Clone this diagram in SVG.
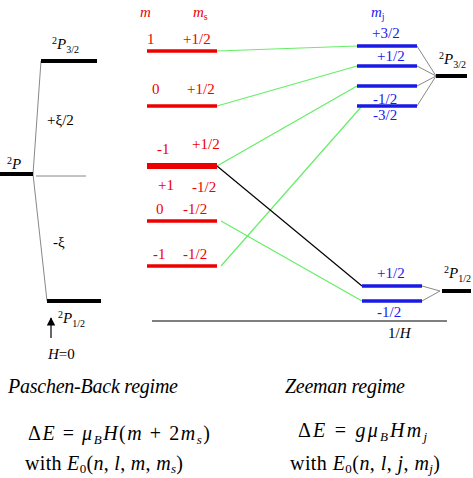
<svg xmlns="http://www.w3.org/2000/svg" width="473" height="478" viewBox="0 0 473 478" font-family="'Liberation Serif', 'DejaVu Serif', 'Times New Roman', serif">
<defs>
<style>
text{font-family:'Liberation Serif','DejaVu Serif','Times New Roman',serif}
.r{fill:#e00;font-size:15px}
.b{fill:#1a1aee;font-size:15px}
.k{fill:#000;font-size:15px}
.it{font-style:italic}
.f{font-size:20px}
.lvk{stroke:#000;stroke-width:4}
.lvr{stroke:#e00;stroke-width:3.5}
.lvb{stroke:#1a1ae6;stroke-width:3.5}
.g{stroke:#888;stroke-width:1;fill:none}
.gr{stroke:#66ee66;stroke-width:1.2;fill:none}
.bl{stroke:#000;stroke-width:1.2;fill:none}
</style>
<marker id="ah" viewBox="0 0 10 10" refX="9" refY="5" markerWidth="7" markerHeight="8" orient="auto"><path d="M0,0 L10,5 L0,10 z" fill="#000"/></marker>
</defs>
<g id="connectors">
<line class="g" x1="33" y1="174" x2="41" y2="61"/>
<line class="g" x1="33" y1="174" x2="47" y2="301"/>
<line class="g" x1="36" y1="176" x2="86" y2="176"/>
<line class="g" x1="417" y1="46" x2="436" y2="76"/>
<line class="g" x1="417" y1="66" x2="436" y2="76"/>
<line class="g" x1="417" y1="86" x2="436" y2="76"/>
<line class="g" x1="417" y1="106" x2="436" y2="76"/>
<line class="g" x1="422" y1="286" x2="440" y2="291"/>
<line class="g" x1="422" y1="301" x2="440" y2="291"/>
<line class="gr" x1="217" y1="51" x2="357" y2="46"/>
<line class="gr" x1="217" y1="106" x2="357" y2="66"/>
<line class="gr" x1="217" y1="166" x2="357" y2="86"/>
<line class="gr" x1="221" y1="266" x2="362" y2="106"/>
<line class="gr" x1="221" y1="221" x2="362" y2="301"/>
<line class="bl" x1="217" y1="166" x2="362" y2="286"/>
<line x1="51" y1="338" x2="51" y2="318" stroke="#000" stroke-width="1.2" marker-end="url(#ah)"/>
<line x1="152" y1="321" x2="447" y2="321" stroke="#000" stroke-width="1"/>
</g>
<g id="P"><line class="lvk" x1="0" y1="174" x2="33" y2="174"/><text class="k" x="7" y="169"><tspan font-size="10" dy="-5">2</tspan><tspan class="it" dy="5">P</tspan></text></g>
<g id="P32"><line class="lvk" x1="41" y1="61" x2="97" y2="61"/><text class="k" x="52" y="49"><tspan font-size="10" dy="-5">2</tspan><tspan class="it" dy="5">P</tspan><tspan font-size="10" dy="4">3/2</tspan></text></g>
<g id="P12"><line class="lvk" x1="47" y1="301" x2="101" y2="301"/><text class="k" x="58" y="323"><tspan font-size="10" dy="-5">2</tspan><tspan class="it" dy="5">P</tspan><tspan font-size="10" dy="4">1/2</tspan></text></g>
<text class="k" x="47" y="125">+ξ/2</text>
<text class="k" x="53" y="247">-ξ</text>
<text class="k" x="48" y="359"><tspan class="it">H</tspan>=0</text>
<text class="r it" x="140" y="17">m</text>
<text class="r" x="193" y="17"><tspan class="it">m</tspan><tspan font-size="10" dy="3">s</tspan></text>
<text class="b" x="371" y="17"><tspan class="it">m</tspan><tspan font-size="10" dy="3">j</tspan></text>
<g id="r1"><line class="lvr" x1="147" y1="51" x2="217" y2="51"/><text class="r" x="147" y="44">1</text><text class="r" x="183" y="44">+1/2</text></g>
<g id="r2"><line class="lvr" x1="147" y1="106" x2="217" y2="106"/><text class="r" x="152" y="94">0</text><text class="r" x="187" y="94">+1/2</text></g>
<g id="r3"><line stroke="#e00" stroke-width="6" x1="147" y1="166" x2="217" y2="166"/><text class="r" x="157" y="154">-1</text><text class="r" x="192" y="149">+1/2</text><text class="r" x="158" y="190">+1</text><text class="r" x="192" y="192">-1/2</text></g>
<g id="r4"><line class="lvr" x1="147" y1="221" x2="217" y2="221"/><text class="r" x="156" y="214">0</text><text class="r" x="183" y="214">-1/2</text></g>
<g id="r5"><line class="lvr" x1="147" y1="266" x2="217" y2="266"/><text class="r" x="153" y="259">-1</text><text class="r" x="183" y="259">-1/2</text></g>
<g id="b1"><line class="lvb" x1="357" y1="46" x2="417" y2="46"/><text class="b" x="372" y="38">+3/2</text></g>
<g id="b2"><line class="lvb" x1="357" y1="66" x2="417" y2="66"/><text class="b" x="377" y="61">+1/2</text></g>
<g id="b3"><line class="lvb" x1="357" y1="86" x2="417" y2="86"/></g>
<g id="b4"><line class="lvb" x1="357" y1="106" x2="417" y2="106"/><text class="b" x="373" y="104">-1/2</text><text class="b" x="373" y="120">-3/2</text></g>
<g id="b5"><line class="lvb" x1="362" y1="286" x2="422" y2="286"/><text class="b" x="377" y="278">+1/2</text></g>
<g id="b6"><line class="lvb" x1="362" y1="301" x2="422" y2="301"/><text class="b" x="377" y="317">-1/2</text></g>
<g id="R32"><line class="lvk" x1="436" y1="76" x2="467" y2="76"/><text class="k" x="439" y="64"><tspan font-size="10" dy="-5">2</tspan><tspan class="it" dy="5">P</tspan><tspan font-size="10" dy="4">3/2</tspan></text></g>
<g id="R12"><line class="lvk" x1="442" y1="291" x2="471" y2="291"/><text class="k" x="444" y="278"><tspan font-size="10" dy="-5">2</tspan><tspan class="it" dy="5">P</tspan><tspan font-size="10" dy="4">1/2</tspan></text></g>
<text class="k" x="388" y="338">1/<tspan class="it">H</tspan></text>
<text class="f it" x="8" y="393" textLength="170" lengthAdjust="spacing">Paschen-Back regime</text>
<text class="f" x="28" y="440" textLength="182" lengthAdjust="spacing"><tspan>Δ</tspan><tspan class="it">E</tspan> = <tspan class="it">μ</tspan><tspan class="it" font-size="13" dy="4">B</tspan><tspan class="it" dy="-4">H</tspan>(<tspan class="it">m</tspan> + 2<tspan class="it">m</tspan><tspan class="it" font-size="13" dy="4">s</tspan><tspan dy="-4">)</tspan></text>
<text class="f" x="25" y="470" textLength="158" lengthAdjust="spacing">with <tspan class="it">E</tspan><tspan font-size="13" dy="3">0</tspan><tspan dy="-3">(</tspan><tspan class="it">n</tspan>, <tspan class="it">l</tspan>, <tspan class="it">m</tspan>, <tspan class="it">m</tspan><tspan class="it" font-size="13" dy="3">s</tspan><tspan dy="-3">)</tspan></text>
<text class="f it" x="285" y="393" textLength="120" lengthAdjust="spacing">Zeeman regime</text>
<text class="f" x="298" y="437" textLength="129" lengthAdjust="spacing"><tspan>Δ</tspan><tspan class="it">E</tspan> = <tspan class="it">gμ</tspan><tspan class="it" font-size="13" dy="4">B</tspan><tspan class="it" dy="-4">Hm</tspan><tspan class="it" font-size="13" dy="4">j</tspan></text>
<text class="f" x="290" y="470" textLength="150" lengthAdjust="spacing">with <tspan class="it">E</tspan><tspan font-size="13" dy="3">0</tspan><tspan dy="-3">(</tspan><tspan class="it">n</tspan>, <tspan class="it">l</tspan>, <tspan class="it">j</tspan>, <tspan class="it">m</tspan><tspan class="it" font-size="13" dy="3">j</tspan><tspan dy="-3">)</tspan></text>
</svg>
